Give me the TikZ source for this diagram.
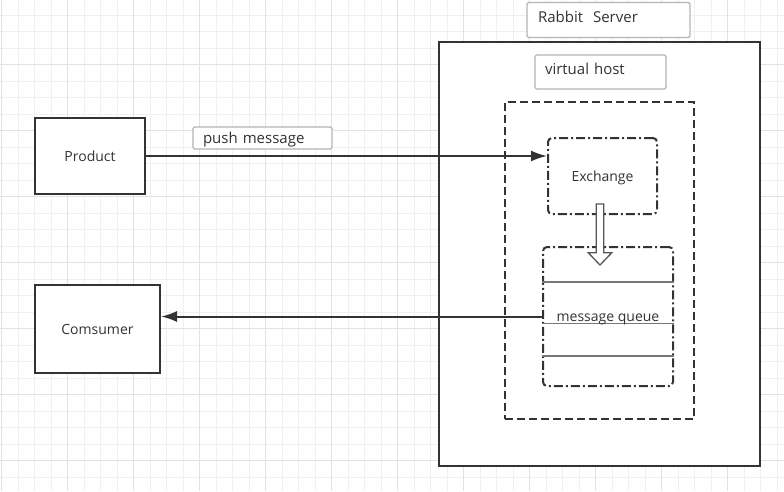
\documentclass[tikz,border=0pt]{standalone}
\usepackage{fontspec}
\setmainfont{Open Sans}
\usetikzlibrary{arrows.meta}

\definecolor{linedark}{HTML}{333333}
\definecolor{labelgray}{HTML}{B5B5B5}
\definecolor{gridlight}{HTML}{F0F0F0}
\definecolor{griddark}{HTML}{E2E2E2}
\definecolor{slotgray}{HTML}{777777}
\definecolor{hollowgray}{HTML}{555555}

\begin{document}
\begin{tikzpicture}[
        x=1pt, y=-1pt,
        every node/.style={font=\fontsize{14}{16}\selectfont, text=linedark},
        gridline/.style={gridlight, line width=0.8pt},
        gridmajor/.style={griddark, line width=0.8pt},
        box/.style={draw=linedark, line width=2pt, fill=white, inner sep=0pt},
        hostbox/.style={draw=linedark, line width=2pt, dash pattern=on 8pt off 4pt, inner sep=0pt},
        dotbox/.style={draw=linedark, line width=2pt, rounded corners=4pt,
            dash pattern=on 9pt off 3pt on 2pt off 3pt, fill=white, inner sep=0pt},
        tag/.style={draw=labelgray, line width=1.2pt, fill=white, rounded corners=1.5pt,
            font=\fontsize{15}{17}\selectfont, align=left, inner xsep=10pt, inner ysep=0pt},
        flow/.style={draw=linedark, line width=2pt, -{Latex[length=16pt,width=11pt]}},
        slot/.style={draw=slotgray, line width=1.5pt},
        hollow/.style={draw=hollowgray, line width=1.3pt, fill=white}
    ]

    % Page and background grid
    \useasboundingbox (0,0) rectangle (784,491);
    \fill[white] (0,0) rectangle (784,491);
    \foreach \i in {0,...,47}
        \draw[gridline] ({1.7+16.5*\i},0) -- ({1.7+16.5*\i},491);
    \foreach \j in {1,...,30}
        \draw[gridline] (0,{-1.5+16.5*\j}) -- (784,{-1.5+16.5*\j});
    \foreach \i in {0,4,...,44}
        \draw[gridmajor] ({1.7+16.5*\i},0) -- ({1.7+16.5*\i},491);
    \foreach \j in {4,8,...,28}
        \draw[gridmajor] (0,{-1.5+16.5*\j}) -- (784,{-1.5+16.5*\j});

    % Server side
    \node[box, minimum width=321pt, minimum height=424pt] (server) at (599.5,254) {};
    \node[tag, text width=141pt, inner xsep=11pt, minimum height=35pt,
        text height=11pt, text depth=7pt] (serverlbl) at (608.5,20) {Rabbit\ \ Server};
    \node[tag, text width=111pt, minimum height=34pt,
        text height=11pt, text depth=7pt] (hostlbl) at (600.5,72) {virtual host};
    \node[hostbox, minimum width=189pt, minimum height=317pt] (vhost) at (599.5,260.5) {};

    % Exchange and queue
    \node[dotbox, minimum width=109pt, minimum height=76pt,
        text height=10pt, text depth=0pt] (exchange) at (602.5,176) {Exchange};
    \node[dotbox, minimum width=130pt, minimum height=139pt] (queue) at (608,316.5) {};
    \foreach \d in {36,77.3,110}
        \draw[slot] ([yshift=-\d pt]queue.north west) -- ([yshift=-\d pt]queue.north east);
    \node[text height=10pt, text depth=0pt] (queuetxt) at (queue.center) {message queue};

    % Hollow arrow from exchange into queue
    \draw[hollow, shift={(exchange.south)}] (-6.2,-11) -- (-6.2,37.7) -- (-14.3,37.7)
        -- (-2.5,50) -- (9.3,37.7) -- (1.2,37.7) -- (1.2,-11) -- cycle;

    % Clients
    \node[box, minimum width=110pt, minimum height=76pt] (product) at (90,156) {Product};
    \node[box, minimum width=125pt, minimum height=88pt] (consumer) at (97.5,329) {Comsumer};

    % Connectors
    \node[tag, text width=119pt, minimum height=22pt,
        text height=11pt, text depth=0pt] (pushlbl) at (262.5,138) {push message};
    \draw[flow] (product.east) -- (product.east -| exchange.west);
    \draw[flow] (queue.west) -- (queue.west -| consumer.east);

\end{tikzpicture}
\end{document}
